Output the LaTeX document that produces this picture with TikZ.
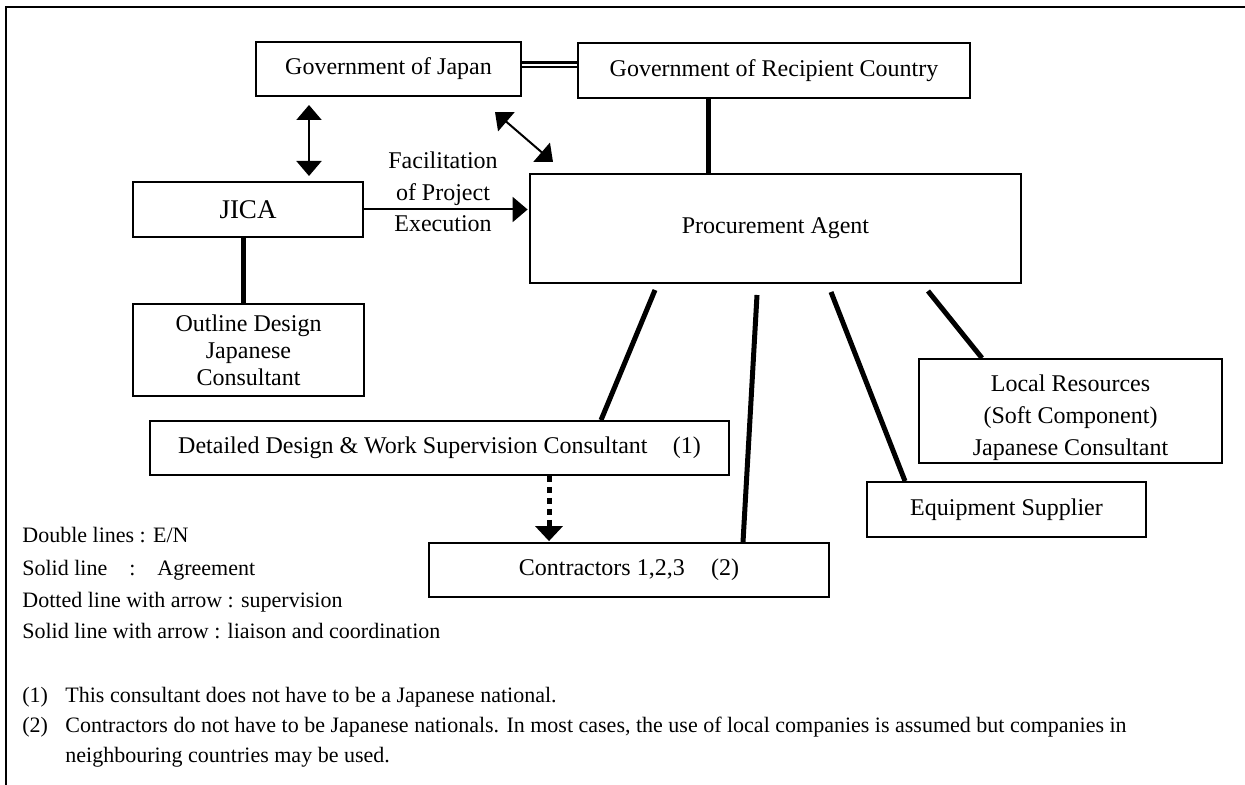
\documentclass[tikz,border=0pt]{standalone}
\usepackage{fontspec}
\setmainfont{Liberation Serif}
\usetikzlibrary{arrows.meta,calc}
\begin{document}
\begin{tikzpicture}[x=0.5pt,y=-0.5pt,
  box/.style={draw,line width=0.9pt,inner sep=0pt,align=center,font=\fontsize{12}{13.5}\selectfont},
  agree/.style={line width=2.5pt},
  liaison/.style={line width=1pt,{Triangle[length=7.5pt,width=12.5pt]}-{Triangle[length=7.5pt,width=12.5pt]}},
  arrowone/.style={line width=1pt,-{Triangle[length=7.5pt,width=12.5pt]}},
  superv/.style={line width=2.5pt,dash pattern=on 3pt off 2.5pt,-{Triangle[length=7.5pt,width=13.5pt]}},
  enote/.style={line width=1.1pt,double,double distance=1.3pt},
  leg/.style={inner sep=0pt,anchor=mid west,font=\fontsize{11}{15}\selectfont}]
\useasboundingbox (0,0) rectangle (1245,785);
% frame
\draw[line width=1.3pt] (1245,7) -- (6,7) -- (6,785);
% boxes
\node[box,minimum width=132.5pt,minimum height=27pt] (gj) at (388.5,69) {Government of Japan};
\node[box,minimum width=196pt,minimum height=27.5pt] (gr) at (774,70.5) {Government of Recipient Country};
\node[box,minimum width=115pt,minimum height=27.5pt,font=\fontsize{13.5}{15}\selectfont] (jica) at (248,209.5) {JICA};
\node[box,minimum width=245.5pt,minimum height=54.5pt] (pa) at (775.5,228.5) {Procurement Agent};
\node[box,minimum width=115.5pt,minimum height=46pt] (od) at (248.5,350) {Outline Design\\Japanese\\Consultant};
\node[box,minimum width=289.5pt,minimum height=27pt] (dd) at (439.5,448) {Detailed Design \& Work Supervision Consultant\hspace{1.05em}(1)};
\node[box,minimum width=200pt,minimum height=27pt] (ct) at (629,570) {Contractors 1,2,3\hspace{1.1em}(2)};
\node[box,minimum width=139.5pt,minimum height=27.5pt] (eq) at (1006.5,509.5) {Equipment Supplier};
\node[box,minimum width=151.5pt,minimum height=52pt,font=\fontsize{12}{16}\selectfont] (lr) at (1070.5,411) {\rule{0pt}{15.2pt}Local Resources\\(Soft Component)\\Japanese Consultant};
% label
\node[align=center,inner sep=0pt,font=\fontsize{12}{15.75}\selectfont] (fac) at (443,192) {Facilitation\\of Project\\Execution};
% E/N double line
\draw[enote] (gj.east |- 0,65) -- (gr.west |- 0,65);
% agreement lines
\draw[agree] (jica.south -| 243,0) -- (od.north -| 243,0);
\draw[agree] (gr.south -| 708,0) -- (pa.north -| 708,0);
\coordinate (p1) at (655,290);
\coordinate (p2) at (757,295);
\coordinate (p3) at (831,292);
\coordinate (p4) at (928,291);
\draw[agree] (p1) -- (dd.north -| 601,0);
\draw[agree] (p2) -- (ct.north -| 743,0);
\draw[agree] (p3) -- (eq.north -| 905,0);
\draw[agree] (p4) -- (lr.north -| 982,0);
% liaison arrows
\coordinate (v1) at (309,105);
\coordinate (v2) at (309,176);
\draw[liaison] (v1) -- (v2);
\coordinate (d1) at (495,112);
\coordinate (d2) at (553,162);
\draw[liaison] (d1) -- (d2);
\draw[arrowone,shorten >=0.75pt] (jica.east) -- (jica.east -| pa.west);
% supervision
\draw[superv,shorten >=0.5pt] (dd.south -| 549,0) -- (ct.north -| 549,0);
% legend
\node[leg] (l1) at (22,538) {Double lines : E/N};
\node[leg] (l2) at (22,571) {Solid line\hspace{1em}:\hspace{1em}Agreement};
\node[leg] (l3) at (22,603) {Dotted line with arrow : supervision};
\node[leg] (l4) at (22,634) {Solid line with arrow : liaison and coordination};
% footnotes
\node[leg] (f1) at (22,698) {\makebox[21.5pt][l]{(1)}This consultant does not have to be a Japanese national.};
\node[leg] (f2) at (22,728) {\makebox[21.5pt][l]{(2)}Contractors do not have to be Japanese nationals. In most cases, the use of local companies is assumed but companies in};
\node[leg] (f3) at (65,758) {neighbouring countries may be used.};
\end{tikzpicture}
\end{document}
